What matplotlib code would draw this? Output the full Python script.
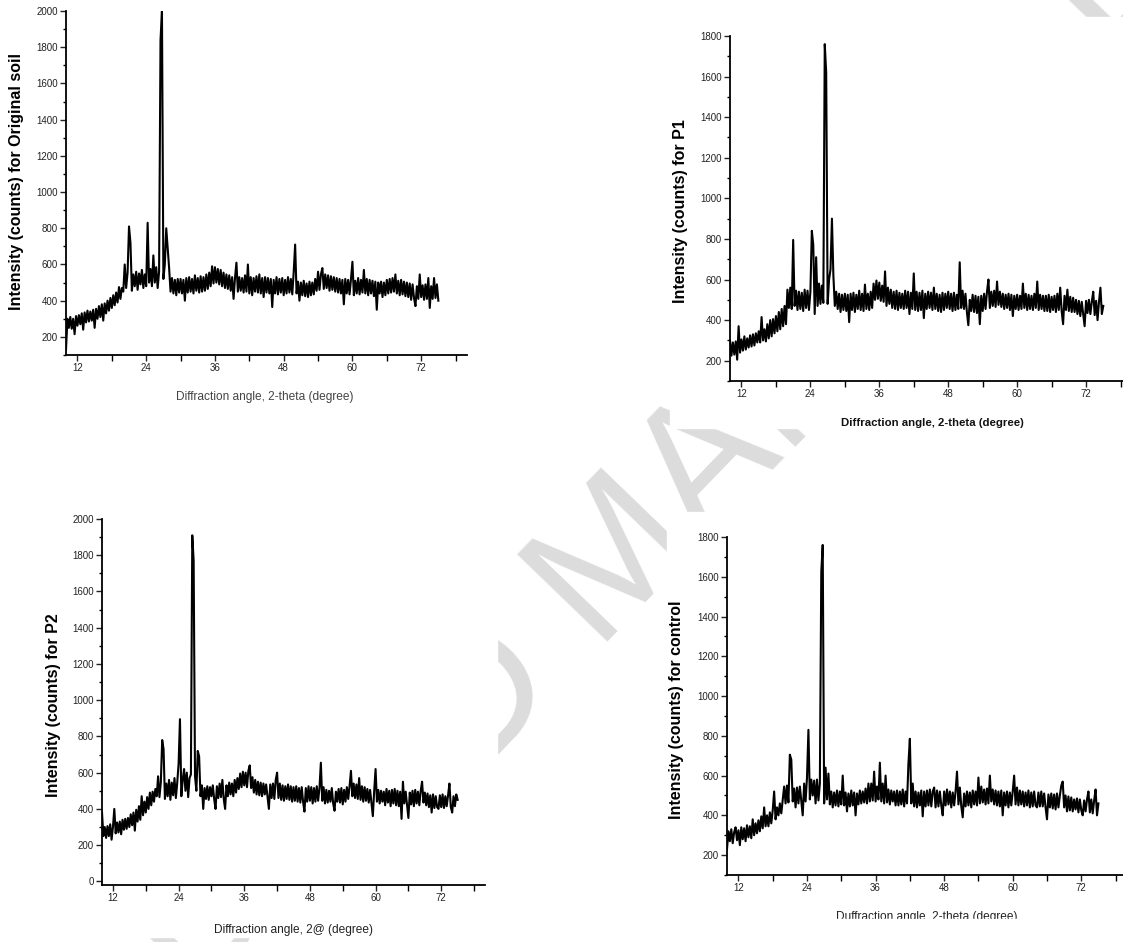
import numpy as np
import matplotlib.pyplot as plt
from matplotlib.patches import Rectangle
from matplotlib.ticker import MultipleLocator

# Розмір картинки в пікселях
W, H = 1123, 942

# 1. Дані: кут 2-theta з кроком 0.25 градуса, інтенсивність (counts)
two_theta = np.arange(10.0, 75.01, 0.25)

original_soil = (
    [130, 300, 250, 310, 245, 300, 215, 315, 262, 320, 270, 330, 240, 335, 280, 345, 285, 340, 290, 350]
    + [250, 355, 300, 370, 310, 380, 290, 385, 330, 400, 345, 415, 360, 430, 375, 445, 390, 475, 410, 470]
    + [450, 600, 470, 555, 810, 720, 455, 545, 480, 560, 460, 550, 490, 570, 470, 545, 480, 830, 500, 575]
    + [480, 650, 500, 585, 470, 560, 1840, 2000, 520, 600, 800, 690, 580, 450, 525, 440, 515, 430, 520, 445]
    + [520, 440, 515, 400, 525, 445, 530, 450, 520, 440, 540, 455, 525, 445, 535, 450, 530, 455, 545, 465]
    + [555, 480, 590, 495, 585, 500, 575, 490, 570, 480, 555, 470, 545, 465, 540, 455, 530, 410, 525, 610]
    + [450, 530, 455, 525, 445, 540, 450, 600, 440, 530, 430, 525, 450, 535, 445, 545, 440, 525, 420, 530]
    + [445, 525, 440, 520, 365, 515, 440, 530, 435, 520, 445, 525, 430, 515, 440, 530, 445, 520, 435, 560]
    + [710, 440, 505, 400, 500, 430, 510, 425, 495, 420, 505, 430, 500, 435, 520, 455, 560, 460, 545, 580]
    + [465, 545, 470, 540, 455, 535, 460, 530, 450, 525, 445, 520, 440, 515, 380, 520, 440, 515, 435, 520]
    + [615, 430, 510, 440, 525, 435, 515, 445, 570, 440, 520, 430, 515, 440, 510, 425, 505, 350, 500, 440]
    + [505, 420, 500, 430, 515, 440, 520, 445, 525, 450, 545, 440, 510, 430, 515, 435, 505, 425, 500, 420]
    + [495, 405, 490, 415, 370, 480, 410, 545, 420, 485, 405, 490, 410, 525, 360, 480, 410, 525, 415, 490]
    + [400]
)

p1 = (
    [300, 225, 290, 230, 295, 205, 370, 240, 305, 250, 320, 255, 310, 265, 325, 270, 330, 275, 335, 290]
    + [345, 290, 415, 300, 355, 295, 380, 310, 400, 320, 405, 335, 420, 345, 440, 355, 455, 370, 470, 380]
    + [550, 460, 560, 455, 795, 470, 545, 450, 540, 455, 535, 445, 550, 460, 545, 450, 540, 840, 770, 430]
    + [710, 470, 580, 480, 570, 485, 1760, 1620, 480, 600, 650, 900, 620, 470, 540, 455, 530, 440, 525, 450]
    + [530, 445, 525, 390, 530, 450, 535, 440, 525, 455, 545, 450, 530, 445, 575, 455, 530, 450, 540, 460]
    + [580, 500, 595, 505, 585, 495, 570, 490, 640, 470, 560, 480, 550, 460, 540, 455, 545, 450, 535, 460]
    + [530, 455, 545, 460, 540, 430, 535, 455, 630, 450, 540, 445, 535, 450, 545, 410, 530, 455, 540, 460]
    + [535, 450, 560, 455, 530, 445, 525, 440, 535, 450, 530, 460, 540, 455, 530, 445, 535, 450, 525, 455]
    + [685, 460, 545, 455, 530, 440, 375, 500, 445, 525, 440, 520, 435, 515, 380, 520, 445, 530, 455, 540]
    + [600, 460, 540, 470, 545, 465, 590, 475, 540, 465, 530, 455, 525, 460, 530, 450, 525, 420, 520, 455]
    + [525, 450, 520, 455, 580, 460, 530, 450, 525, 455, 520, 450, 530, 460, 590, 450, 525, 455, 520, 445]
    + [520, 445, 525, 440, 515, 450, 520, 440, 530, 450, 560, 445, 380, 520, 450, 550, 445, 515, 440, 510]
    + [440, 500, 430, 495, 420, 490, 430, 370, 495, 435, 500, 430, 490, 540, 425, 495, 400, 490, 560, 430]
    + [470]
)

p2 = (
    [380, 250, 300, 240, 305, 250, 315, 230, 300, 400, 265, 325, 270, 330, 260, 340, 285, 345, 290, 350]
    + [300, 370, 310, 380, 280, 395, 330, 415, 340, 470, 365, 440, 380, 465, 400, 490, 420, 495, 440, 510]
    + [470, 580, 465, 545, 780, 730, 455, 540, 470, 560, 450, 545, 475, 570, 460, 545, 650, 895, 470, 560]
    + [620, 500, 600, 465, 570, 590, 1910, 1770, 580, 500, 720, 690, 470, 530, 400, 515, 455, 525, 450, 520]
    + [470, 530, 455, 400, 525, 460, 540, 465, 560, 455, 400, 530, 470, 545, 480, 540, 470, 560, 490, 570]
    + [510, 595, 520, 605, 530, 600, 520, 610, 640, 515, 575, 490, 560, 480, 550, 475, 545, 470, 540, 480]
    + [535, 465, 400, 535, 460, 540, 455, 560, 600, 460, 540, 450, 530, 445, 525, 455, 535, 450, 525, 440]
    + [520, 445, 525, 440, 515, 435, 520, 440, 385, 515, 440, 525, 445, 520, 430, 515, 440, 525, 445, 515]
    + [655, 445, 520, 430, 505, 435, 500, 440, 515, 430, 390, 495, 440, 510, 435, 515, 425, 505, 440, 520]
    + [455, 525, 610, 470, 540, 460, 535, 455, 570, 450, 525, 440, 520, 445, 510, 435, 505, 430, 360, 500]
    + [620, 440, 505, 430, 500, 440, 495, 420, 510, 435, 500, 415, 505, 430, 510, 420, 500, 415, 495, 345]
    + [550, 430, 495, 420, 350, 490, 425, 500, 415, 505, 430, 495, 420, 500, 550, 435, 490, 420, 485, 410]
    + [475, 380, 480, 405, 470, 410, 400, 475, 410, 480, 405, 470, 415, 475, 540, 410, 380, 470, 415, 480]
    + [450]
)

control = (
    [230, 320, 270, 330, 260, 315, 340, 275, 325, 250, 340, 280, 335, 270, 350, 290, 345, 285, 380, 300]
    + [360, 310, 375, 320, 395, 335, 440, 345, 400, 345, 415, 360, 425, 520, 380, 440, 400, 460, 410, 480]
    + [545, 460, 550, 465, 705, 680, 470, 535, 440, 540, 460, 545, 470, 400, 560, 470, 590, 830, 480, 580]
    + [500, 575, 460, 580, 475, 560, 1625, 1760, 460, 640, 480, 610, 455, 520, 440, 515, 450, 525, 445, 520]
    + [455, 600, 450, 515, 420, 510, 445, 525, 450, 515, 400, 510, 455, 525, 460, 520, 465, 535, 460, 560]
    + [470, 560, 475, 620, 470, 545, 480, 665, 470, 560, 460, 600, 465, 530, 455, 525, 470, 520, 450, 525]
    + [450, 520, 455, 530, 445, 520, 460, 660, 785, 460, 560, 445, 520, 440, 515, 450, 525, 395, 520, 445]
    + [525, 450, 530, 445, 520, 540, 440, 525, 445, 520, 450, 400, 520, 450, 530, 455, 520, 440, 515, 450]
    + [520, 620, 455, 540, 445, 390, 510, 445, 520, 450, 515, 440, 525, 455, 520, 450, 590, 460, 545, 465]
    + [530, 455, 535, 460, 600, 470, 530, 455, 525, 450, 520, 445, 525, 400, 515, 450, 520, 440, 515, 450]
    + [520, 600, 455, 540, 450, 525, 455, 520, 445, 515, 450, 525, 440, 515, 445, 520, 450, 440, 515, 445]
    + [520, 445, 510, 440, 380, 505, 440, 510, 435, 505, 430, 510, 440, 500, 550, 570, 440, 500, 420, 495]
    + [425, 490, 420, 480, 430, 485, 415, 480, 425, 400, 475, 420, 480, 520, 415, 480, 410, 475, 530, 400]
    + [460]
)

ylabels = ['Intensity (counts) for Original soil', 'Intensity (counts) for P1',
           'Intensity (counts) for P2', 'Intensity (counts) for control']
xlabels = ['Diffraction angle, 2-theta (degree)', 'Diffraction angle, 2-theta (degree)',
           'Diffraction angle, 2@ (degree)', 'Duffraction angle, 2-theta (degree)']
ylims = [(100, 2000), (100, 1800), (-20, 2000), (100, 1800)]

# положення осей у пікселях: x0, y0, x1, y1 (y зверху вниз)
boxes = [(66, 11, 467, 355), (730, 36, 1132, 381),
         (102, 519, 485, 885), (727, 537, 1127, 875)]
# білі підкладки під кожну вставлену картинку
pads = [(0, 0, 490, 405), (670, 17, 1123, 428), (0, 470, 497, 937), (667, 512, 1123, 918)]
ylabel_pos = [(17, 181), (680, 211), (54, 705), (677, 710)]
xlabel_pos = [(265, 397), (932, 423), (293, 930), (927, 917)]
xlabel_weight = ['normal', 'bold', 'normal', 'normal']
xlabel_size = [8.6, 8.2, 8.6, 8.6]
xlabel_color = ['#444444', '#111111', '#222222', '#222222']

FONT = 'Liberation Sans'


def fx(x):
    return x / W


def fy(y):
    return 1 - y / H


fig = plt.figure(figsize=(W / 100, H / 100), dpi=100)

# водяний знак
fig.text(fx(620), fy(562), 'ACCEPTED MANUSCRIPT', fontsize=130, color='#dcdcdc',
         family=FONT, rotation=46, rotation_mode='anchor',
         ha='center', va='center', zorder=-3)

for x0, y0, x1, y1 in pads:
    fig.add_artist(Rectangle((fx(x0), fy(y1)), fx(x1 - x0), (y1 - y0) / H,
                             transform=fig.transFigure, color='white', zorder=-2))

series = [original_soil, p1, p2, control]
for i, values in enumerate(series):
    x0, y0, x1, y1 = boxes[i]
    ax = fig.add_axes([fx(x0), fy(y1), (x1 - x0) / W, (y1 - y0) / H])
    ax.plot(two_theta, values, color='black', lw=1.5)
    ax.set_xlim(10, 80)
    ax.set_ylim(*ylims[i])
    ax.xaxis.set_major_locator(MultipleLocator(12))
    ax.xaxis.set_minor_locator(MultipleLocator(6))
    ax.yaxis.set_major_locator(MultipleLocator(200))
    ax.yaxis.set_minor_locator(MultipleLocator(100))
    for s in ['top', 'right']:
        ax.spines[s].set_visible(False)
    for s in ['left', 'bottom']:
        ax.spines[s].set_linewidth(1.3)
    ax.tick_params(which='major', length=4, width=1, labelsize=7, colors='#222222', pad=2)
    ax.tick_params(which='minor', length=2.5, width=1)
    ax.tick_params(axis='x', which='minor', length=4)
    for lab in ax.get_xticklabels() + ax.get_yticklabels():
        lab.set_family(FONT)

    fig.text(fx(ylabel_pos[i][0]), fy(ylabel_pos[i][1]), ylabels[i], rotation=90,
             ha='center', va='center', fontsize=11.5, fontweight='bold', family=FONT)
    fig.text(fx(xlabel_pos[i][0]), fy(xlabel_pos[i][1]), xlabels[i],
             ha='center', va='center', fontsize=xlabel_size[i], fontweight=xlabel_weight[i],
             color=xlabel_color[i], family=FONT)

# нижній край правої нижньої картинки обрізає підпис
fig.add_artist(Rectangle((fx(667), 0), fx(1123 - 667), fy(919),
                         transform=fig.transFigure, color='white', zorder=5))

fig.savefig('out.png', dpi=100)
